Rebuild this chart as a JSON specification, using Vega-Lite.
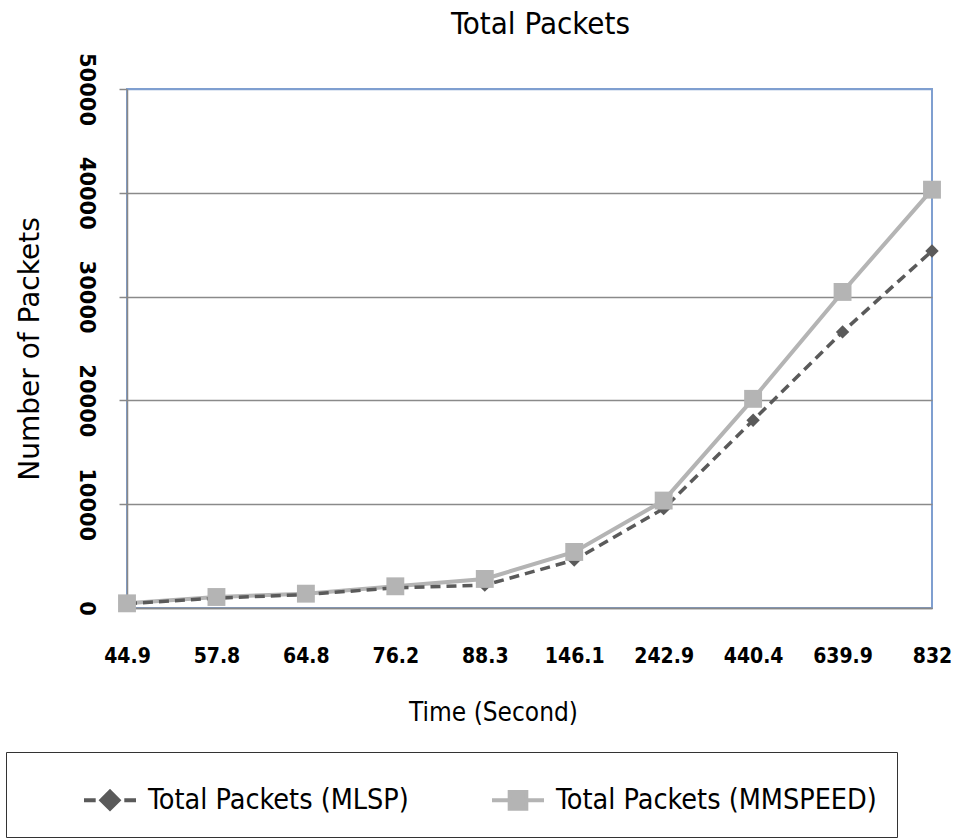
{
  "$schema": "https://vega.github.io/schema/vega-lite/v6.json",
  "width": 805,
  "height": 519,
  "padding": {"left": 5, "top": 9, "right": 5, "bottom": 5},
  "background": "white",
  "title": {"text": "Total Packets", "font": "DejaVu Sans Condensed, Liberation Sans Narrow, sans-serif", "fontSize": 31, "fontWeight": "normal", "color": "black", "offset": 11, "dx": 11},
  "config": {"view": {"stroke": "#7f9fd0", "strokeWidth": 2}},
  "data": {"values": [
    {"time": "44.9", "series": "Total Packets (MLSP)", "packets": 420},
    {"time": "57.8", "series": "Total Packets (MLSP)", "packets": 950},
    {"time": "64.8", "series": "Total Packets (MLSP)", "packets": 1300},
    {"time": "76.2", "series": "Total Packets (MLSP)", "packets": 1950},
    {"time": "88.3", "series": "Total Packets (MLSP)", "packets": 2200},
    {"time": "146.1", "series": "Total Packets (MLSP)", "packets": 4620},
    {"time": "242.9", "series": "Total Packets (MLSP)", "packets": 9570},
    {"time": "440.4", "series": "Total Packets (MLSP)", "packets": 18080},
    {"time": "639.9", "series": "Total Packets (MLSP)", "packets": 26600},
    {"time": "832", "series": "Total Packets (MLSP)", "packets": 34400},
    {"time": "44.9", "series": "Total Packets (MMSPEED)", "packets": 450},
    {"time": "57.8", "series": "Total Packets (MMSPEED)", "packets": 1060},
    {"time": "64.8", "series": "Total Packets (MMSPEED)", "packets": 1380},
    {"time": "76.2", "series": "Total Packets (MMSPEED)", "packets": 2090},
    {"time": "88.3", "series": "Total Packets (MMSPEED)", "packets": 2800},
    {"time": "146.1", "series": "Total Packets (MMSPEED)", "packets": 5400},
    {"time": "242.9", "series": "Total Packets (MMSPEED)", "packets": 10350},
    {"time": "440.4", "series": "Total Packets (MMSPEED)", "packets": 20150},
    {"time": "639.9", "series": "Total Packets (MMSPEED)", "packets": 30450},
    {"time": "832", "series": "Total Packets (MMSPEED)", "packets": 40300}
  ]},
  "encoding": {
    "x": {
      "field": "time", "type": "ordinal",
      "sort": ["44.9", "57.8", "64.8", "76.2", "88.3", "146.1", "242.9", "440.4", "639.9", "832"],
      "scale": {"type": "point", "padding": 0},
      "axis": {
        "labelAngle": 0, "labelFont": "DejaVu Sans Condensed, Liberation Sans Narrow, sans-serif", "labelFontSize": 21, "labelFontWeight": "bold", "labelColor": "black",
        "ticks": false, "tickSize": 0, "labelPadding": 37,
        "domainColor": "#888888", "domainWidth": 1.5, "grid": false,
        "title": "Time  (Second)", "titleFont": "DejaVu Sans Condensed, Liberation Sans Narrow, sans-serif", "titleFontSize": 26, "titleFontWeight": "normal", "titleColor": "black",
        "titlePadding": 33, "titleX": 366
      }
    },
    "y": {
      "field": "packets", "type": "quantitative",
      "scale": {"domain": [0, 50000], "nice": false},
      "axis": {
        "values": [0, 10000, 20000, 30000, 40000, 50000], "format": "d",
        "labelAngle": 90, "labelAlign": "center", "labelBaseline": "top",
        "labelFont": "DejaVu Sans", "labelFontSize": 21, "labelFontWeight": "bold", "labelColor": "black", "labelPadding": 23,
        "tickSize": 8, "tickColor": "#888888", "tickWidth": 1.5,
        "domainColor": "#888888", "domainWidth": 1.5,
        "gridColor": {"condition": {"test": "datum.value == 50000", "value": "#7f9fd0"}, "value": "#8a8a8a"},
        "gridWidth": 1.5,
        "title": "Number of Packets", "titleFont": "DejaVu Sans", "titleFontSize": 28, "titleFontWeight": "normal", "titleColor": "black", "titlePadding": 31
      }
    },
    "color": {
      "field": "series", "type": "nominal",
      "scale": {"domain": ["Total Packets (MLSP)", "Total Packets (MMSPEED)"], "range": ["#5a5a5a", "#b4b4b4"]},
      "legend": {
        "orient": "none", "legendX": -121, "legendY": 663, "direction": "horizontal",
        "title": " ", "titleOrient": "left", "titleFontSize": 1, "titlePadding": 56,
        "padding": 20, "strokeColor": "#333333", "fillColor": "white",
        "symbolSize": 2704, "symbolStrokeWidth": 4,
        "labelFont": "DejaVu Sans Condensed, Liberation Sans Narrow, sans-serif", "labelFontSize": 28.5, "labelColor": "black", "labelOffset": 10, "labelLimit": 500,
        "columnPadding": 75,
        "encode": {"symbols": {"update": {
          "shape": {"signal": "datum.value == 'Total Packets (MLSP)' ? 'M-1,0H-0.55M0,-0.33L0.33,0L0,0.33L-0.33,0ZM0.55,0H1' : 'M-1,0H1M-0.32,-0.32H0.32V0.32H-0.32Z'"},
          "fill": {"signal": "datum.value == 'Total Packets (MLSP)' ? '#5a5a5a' : '#b4b4b4'"},
          "stroke": {"signal": "datum.value == 'Total Packets (MLSP)' ? '#5a5a5a' : '#b4b4b4'"},
          "strokeWidth": {"value": 4},
          "strokeDash": {"value": []},
          "opacity": {"value": 1}
        }}}
      }
    }
  },
  "layer": [
    {
      "transform": [{"filter": "datum.series == 'Total Packets (MMSPEED)'"}],
      "mark": {"type": "line", "strokeWidth": 4}
    },
    {
      "transform": [{"filter": "datum.series == 'Total Packets (MLSP)'"}],
      "mark": {"type": "line", "strokeWidth": 3.5, "strokeDash": [10, 6]}
    },
    {
      "transform": [{"filter": "datum.series == 'Total Packets (MLSP)'"}],
      "mark": {"type": "point", "filled": true, "opacity": 1, "shape": "diamond", "size": 180}
    },
    {
      "transform": [{"filter": "datum.series == 'Total Packets (MMSPEED)'"}],
      "mark": {"type": "point", "filled": true, "opacity": 1, "shape": "square", "size": 320}
    }
  ]
}
